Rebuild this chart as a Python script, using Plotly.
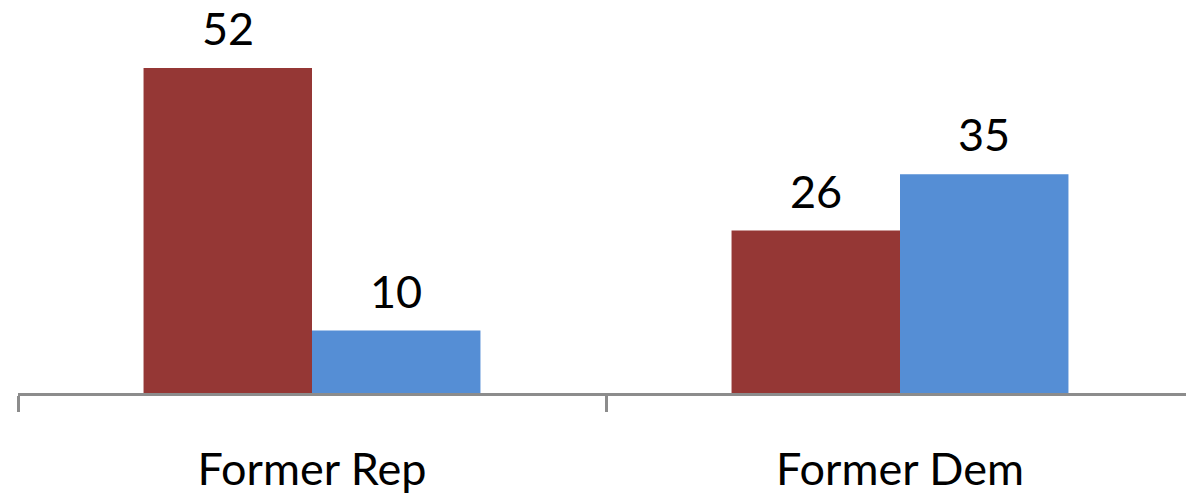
import plotly.graph_objects as go

categories = ["Former Rep", "Former Dem"]
series_names = ["Rep", "Dem"]
rep_values = [52, 26]
dem_values = [10, 35]
colors = ["#953735", "#558ED5"]

W, H = 1194, 495
ml, mr, mt, mb = 10, 8, 10, 110
bargap = 0.427
fig = go.Figure()
for name, vals, c in zip(series_names, [rep_values, dem_values], colors):
    fig.add_trace(go.Bar(x=categories, y=vals, name=name, marker=dict(color=c, line=dict(width=0))))

cat_px = (W - ml - mr) / len(categories)
bar_px = cat_px * (1 - bargap) / 2
for i, vals in enumerate([rep_values, dem_values]):
    shift = (i - 0.5) * bar_px
    for cat, v in zip(categories, vals):
        fig.add_annotation(x=cat, y=v, text=str(v), showarrow=False, xshift=shift,
                           yanchor="bottom", yshift=13, borderpad=0, borderwidth=0,
                           font=dict(family="Lato", size=45, color="black"))

fig.update_layout(
    width=W, height=H, margin=dict(l=ml, r=mr, t=mt, b=mb, pad=0, autoexpand=False),
    barmode="group", bargap=bargap, bargroupgap=0,
    plot_bgcolor="white", paper_bgcolor="white", showlegend=False,
    xaxis=dict(type="category", range=[-0.5, 1.5], tickson="boundaries", ticks="outside",
               ticklen=16, tickwidth=3, tickcolor="#8c8c8c", showline=True, linecolor="#8c8c8c",
               linewidth=3, ticklabelstandoff=35, automargin=False,
               tickfont=dict(family="Lato", size=45, color="black"), showgrid=False),
    yaxis=dict(range=[0, 60], visible=False, showgrid=False, zeroline=False, automargin=False),
)
fig.write_html("out.html")
